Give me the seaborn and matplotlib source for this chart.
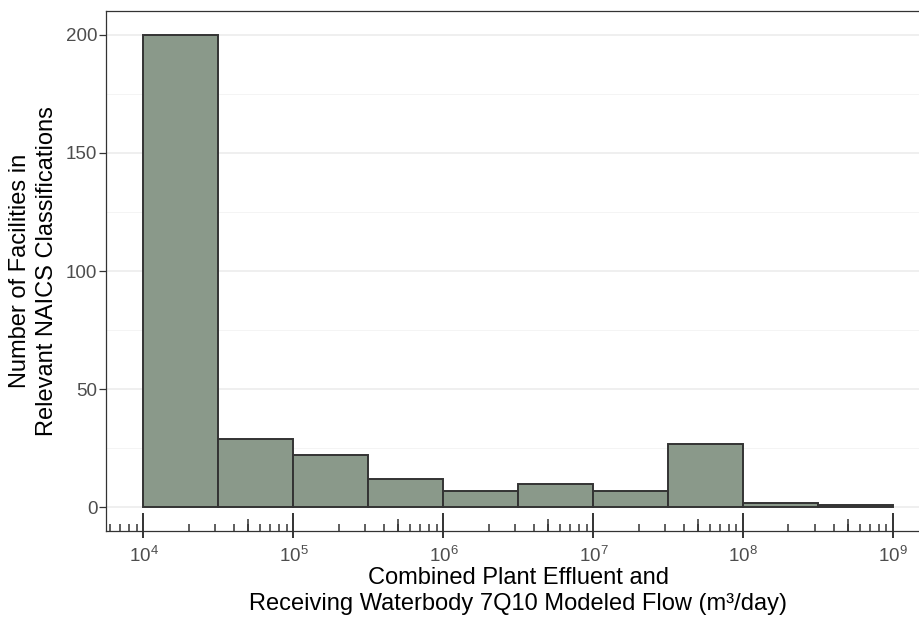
import numpy as np
import matplotlib
matplotlib.use("Agg")
import matplotlib.pyplot as plt
import seaborn as sns
from matplotlib.ticker import FixedLocator, LogLocator, NullFormatter

# ---- data ----
bin_edge_exponents = [4.0, 4.5, 5.0, 5.5, 6.0, 6.5, 7.0, 7.5, 8.0, 8.5, 9.0]
facility_counts = [200, 29, 22, 12, 7, 10, 7, 27, 2, 1]
x_decades = [4, 5, 6, 7, 8, 9]
y_ticks = [0, 50, 100, 150, 200]
x_title = "Combined Plant Effluent and\nReceiving Waterbody 7Q10 Modeled Flow (m³/day)"
y_title = "Number of Facilities in\nRelevant NAICS Classifications"

sns.set_theme(style="white")
plt.rcParams['font.family'] = ['Liberation Sans', 'DejaVu Sans']
plt.rcParams['mathtext.default'] = 'regular'

edges = np.array(bin_edge_exponents)
centers = 10 ** ((edges[:-1] + edges[1:]) / 2)

fig = plt.figure(figsize=(9.2, 6.17), dpi=100)
panel_h = 520
ax = fig.add_axes([106 / 920, 86 / 617, 824.8 / 920, panel_h / 617])

sns.histplot(x=centers, weights=facility_counts, bins=len(facility_counts),
             binrange=(edges[0], edges[-1]), log_scale=True, ax=ax,
             color="#8A998A", alpha=1, edgecolor="#333333", linewidth=1.4)

ax.set_xlim(10 ** 3.75, 10 ** 9.25)
ax.set_ylim(-10, 210)

# grid
ax.set_axisbelow(True)
ax.set_yticks(y_ticks)
ax.set_yticks([25, 75, 125, 175], minor=True)
ax.grid(axis='y', which='major', color='#EBEBEB', linewidth=1.1)
ax.grid(axis='y', which='minor', color='#F3F3F3', linewidth=0.6)
ax.grid(axis='x', visible=False)

# x axis: outward major ticks + inside log ticks (short / mid / long)
ax.xaxis.set_major_locator(FixedLocator([10.0 ** d for d in x_decades]))
ax.xaxis.set_minor_locator(LogLocator(base=10, subs=np.arange(2, 10), numticks=100))
ax.xaxis.set_minor_formatter(NullFormatter())
ax.tick_params(axis='x', which='major', direction='out', length=4.7, width=1.4,
               color='#333333', labelsize=13.5, labelcolor='#4D4D4D', pad=6,
               bottom=True)
ax.tick_params(axis='x', which='minor', direction='in', length=4.7, width=1.1,
               color='#333333', bottom=True)
xt = ax.get_xaxis_transform()
mids = [5 * 10.0 ** d for d in [3] + x_decades]
ax.vlines(mids, 0, 12 / panel_h, transform=xt, color='#333333', linewidth=1.1)
ax.vlines([10.0 ** d for d in x_decades], 0, 18 / panel_h, transform=xt,
          color='#333333', linewidth=1.4)

ax.tick_params(axis='y', which='major', direction='out', length=4.7, width=0.9,
               color='#333333', labelsize=13.5, labelcolor='#4D4D4D', pad=1.5, left=True)
ax.tick_params(axis='y', which='minor', length=0, left=False)

for s in ax.spines.values():
    s.set_visible(True)
    s.set_color('#333333')
    s.set_linewidth(0.9)

ax.set_xlabel(x_title, fontsize=17, color='black', linespacing=1.2, labelpad=1)
ax.set_ylabel(y_title, fontsize=17, color='black', linespacing=1.25, labelpad=6)

fig.savefig("out.png", dpi=100)
